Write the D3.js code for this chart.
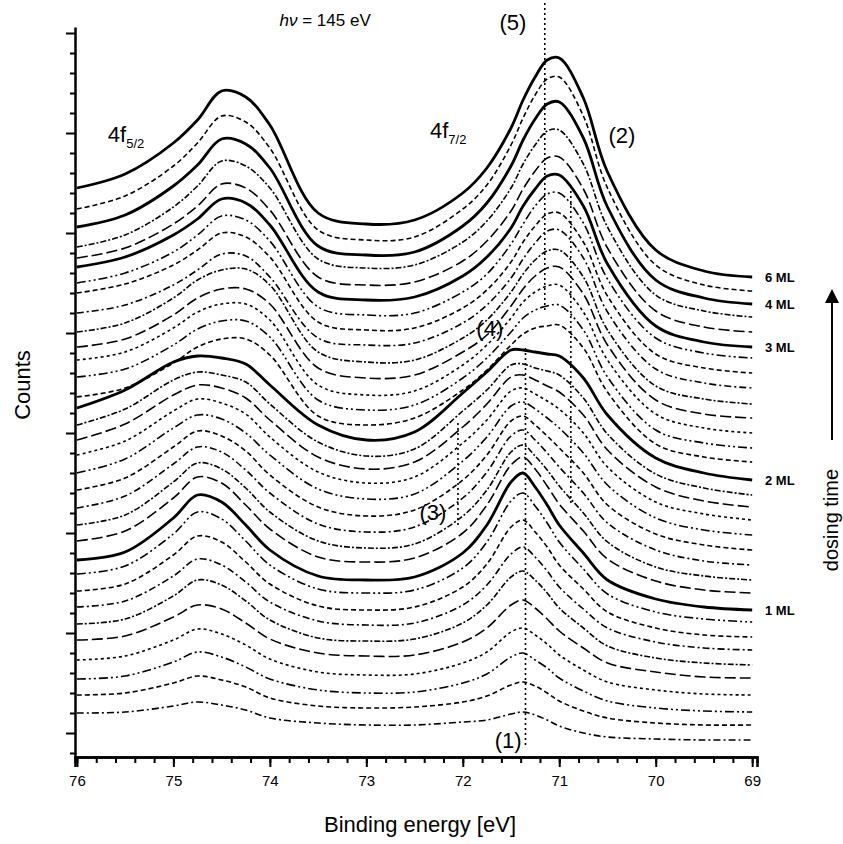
<!DOCTYPE html>
<html>
<head>
<meta charset="utf-8">
<script src="https://cdn.jsdelivr.net/npm/d3@7"></script>
<style>
  body { margin: 0; background: #fff; }
  svg { display: block; font-family: "Liberation Sans", Arial, sans-serif; }
</style>
</head>
<body>
<svg id="chart" width="843" height="844"></svg>
<script>
const energies = [76.0, 75.5, 75.0, 74.75, 74.5, 74.25, 74.0, 73.5, 73.0, 72.5, 72.0,
                  71.75, 71.5, 71.375, 71.25, 71.125, 71.0, 70.75, 70.5, 70.0, 69.5, 69.0];

// spectra (counts, already offset), first = clean surface, last = longest dosing
const spectra = [
  [44, 45, 51, 55, 52, 47, 39, 34, 32, 32, 35, 37, 43, 45, 42, 37, 31, 24, 20, 18, 17, 17],
  [62, 64, 74, 81, 77, 70, 59, 51, 49, 50, 55, 61, 72, 75, 71, 64, 56, 46, 39, 34, 32, 32],
  [78, 81, 95, 105, 100, 90, 78, 67, 64, 65, 74, 83, 100, 104, 97, 89, 79, 66, 56, 49, 46, 45],
  [97, 101, 117, 128, 123, 112, 98, 85, 82, 83, 94, 105, 125, 129, 122, 113, 102, 87, 75, 67, 63, 62],
  [117, 121, 140, 152, 148, 134, 118, 104, 101, 102, 115, 129, 152, 157, 149, 138, 126, 109, 94, 85, 80, 79],
  [133, 138, 161, 177, 172, 156, 137, 119, 116, 118, 134, 152, 180, 186, 177, 164, 149, 129, 111, 99, 94, 92],
  [150, 156, 181, 198, 192, 175, 155, 136, 132, 134, 152, 172, 203, 210, 200, 186, 170, 148, 129, 115, 109, 107],
  [166, 173, 202, 221, 215, 195, 173, 151, 147, 150, 170, 193, 230, 237, 225, 210, 192, 168, 145, 129, 122, 120],
  [183, 191, 223, 245, 238, 216, 192, 168, 164, 167, 189, 215, 256, 264, 251, 234, 215, 188, 163, 145, 138, 135],
  [197, 205, 239, 262, 255, 232, 207, 181, 177, 180, 204, 232, 275, 284, 270, 252, 232, 204, 177, 158, 150, 147],
  [216, 226, 259, 280, 274, 252, 228, 200, 195, 199, 224, 252, 292, 300, 288, 271, 253, 226, 198, 176, 167, 164],
  [232, 242, 275, 294, 288, 269, 245, 216, 209, 213, 241, 267, 305, 312, 301, 287, 271, 244, 215, 190, 181, 177],
  [249, 261, 293, 310, 305, 287, 264, 233, 225, 230, 259, 285, 321, 327, 317, 304, 290, 264, 234, 207, 196, 192],
  [267, 279, 310, 326, 321, 306, 282, 250, 241, 247, 277, 302, 336, 341, 332, 321, 309, 284, 252, 223, 212, 207],
  [284, 298, 329, 342, 338, 324, 302, 268, 258, 263, 296, 320, 351, 355, 348, 339, 329, 304, 272, 239, 227, 222],
  [302, 316, 346, 358, 354, 343, 320, 285, 274, 280, 314, 337, 366, 369, 363, 356, 348, 324, 290, 255, 243, 237],
  [317, 333, 362, 372, 369, 359, 337, 300, 288, 295, 330, 353, 380, 382, 377, 371, 365, 342, 307, 270, 256, 250],
  [332, 348, 377, 385, 382, 375, 353, 315, 301, 308, 346, 367, 392, 393, 389, 386, 382, 359, 323, 283, 269, 262],
  [349, 367, 395, 401, 399, 393, 372, 332, 317, 325, 364, 385, 407, 407, 405, 403, 401, 379, 342, 299, 284, 277],
  [360, 369, 394, 410, 418, 418, 402, 341, 332, 339, 367, 387, 412, 423, 429, 431, 432, 409, 365, 313, 300, 295],
  [380, 388, 412, 428, 436, 436, 420, 357, 347, 352, 379, 399, 425, 439, 447, 451, 452, 427, 380, 327, 314, 309],
  [397, 405, 429, 445, 453, 453, 437, 372, 362, 366, 392, 412, 439, 455, 465, 471, 472, 445, 397, 343, 329, 324],
  [410, 418, 442, 459, 468, 468, 453, 389, 379, 382, 405, 422, 451, 468, 481, 489, 490, 463, 412, 357, 343, 339],
  [425, 434, 459, 477, 487, 488, 472, 405, 395, 397, 419, 437, 465, 483, 497, 506, 507, 480, 427, 371, 358, 353],
  [444, 452, 472, 487, 503, 501, 480, 419, 412, 414, 434, 452, 479, 498, 514, 526, 527, 499, 445, 388, 374, 369],
  [464, 473, 492, 507, 524, 520, 500, 435, 427, 429, 449, 467, 495, 515, 531, 543, 544, 515, 461, 403, 389, 384],
  [474, 484, 505, 522, 541, 537, 516, 450, 442, 444, 465, 483, 513, 533, 551, 563, 564, 534, 478, 419, 404, 399],
  [490, 500, 522, 538, 558, 554, 532, 465, 457, 460, 481, 500, 529, 551, 568, 581, 582, 551, 493, 431, 415, 410],
  [499, 509, 533, 551, 573, 569, 547, 480, 472, 475, 496, 516, 546, 568, 586, 599, 600, 568, 509, 446, 430, 425],
  [510, 522, 550, 571, 596, 591, 569, 498, 489, 492, 515, 536, 569, 593, 612, 626, 627, 593, 530, 462, 446, 440],
  [530, 542, 571, 592, 618, 613, 589, 511, 502, 505, 531, 554, 591, 617, 638, 653, 655, 619, 550, 477, 459, 453],
  [548, 561, 591, 614, 641, 635, 609, 527, 517, 520, 548, 572, 612, 639, 662, 678, 680, 641, 569, 492, 472, 466],
  [569, 583, 614, 637, 666, 660, 632, 544, 533, 537, 564, 589, 629, 657, 680, 697, 699, 659, 585, 507, 486, 480]
];

// coverage labels and the spectra they belong to
const mlLabels = ["1 ML", "2 ML", "3 ML", "4 ML", "6 ML"];
const mlSpectra = [9, 18, 27, 30, 32];

// vertical guide lines: label, energy, count range
const guideNames = ["(1)", "(2)", "(3)", "(5)"];
const guideEnergies = [71.35, 70.88, 72.05, 71.15];
const guideFrom = [12, 254, 232, 447];
const guideTo = [412, 567, 337, 754];

// peak labels: text, energy, counts
const peakNames = ["(1)", "(2)", "(3)", "(4)", "(5)"];
const peakEnergies = [71.53, 70.35, 72.31, 71.72, 71.48];
const peakCounts = [17, 622, 245, 429, 735];

const xMajor = [76, 75, 74, 73, 72, 71, 70, 69];
const xMinor = d3.range(0, 36).map(i => +(76 - i * 0.2).toFixed(1));
const yTicks = d3.range(4, 730, 20);

const svg = d3.select("#chart");

const x = d3.scaleLinear().domain([76.02, 68.95]).range([75, 757]);
const y = d3.scaleLinear().domain([0, 730]).range([757, 27]);

const dashes = ["7,3,2,3", "5,3", "9,3,2,3,2,3", "3,3", "11,4", "6,2,2,2"];

const line = d3.line()
    .x((d, i) => x(energies[i]))
    .y(d => y(d))
    .curve(d3.curveCatmullRom.alpha(0.5));

svg.append("g")
    .selectAll("path")
    .data(spectra)
    .enter().append("path")
    .attr("fill", "none")
    .attr("stroke", "#000")
    .attr("stroke-width", (d, i) => mlSpectra.includes(i) ? 2.8 : 1.6)
    .attr("stroke-dasharray", (d, i) => mlSpectra.includes(i) ? null : dashes[i % dashes.length])
    .attr("d", line);

// guide lines
svg.append("g")
    .selectAll("line")
    .data(guideEnergies)
    .enter().append("line")
    .attr("x1", d => x(d))
    .attr("x2", d => x(d))
    .attr("y1", (d, i) => y(guideFrom[i]))
    .attr("y2", (d, i) => y(guideTo[i]))
    .attr("stroke", "#000")
    .attr("stroke-width", 1.6)
    .attr("stroke-dasharray", "2,3");

// axes
const xAxisMinor = d3.axisBottom(x).tickValues(xMinor).tickSize(6).tickFormat("");
const xAxisMajor = d3.axisBottom(x).tickValues(xMajor).tickSize(10).tickPadding(8).tickFormat(d3.format("d"));
const yAxis = d3.axisLeft(y).tickValues(yTicks).tickFormat("")
    .tickSizeInner(6).tickSizeOuter(0);

const gxMinor = svg.append("g").attr("transform", `translate(0,${y(0)})`).call(xAxisMinor);
const gxMajor = svg.append("g").attr("transform", `translate(0,${y(0)})`).call(xAxisMajor);
const gy = svg.append("g").attr("transform", `translate(${x(76.02)},0)`).call(yAxis);

[gxMinor, gxMajor, gy].forEach(g => {
    g.select(".domain").attr("stroke", "#000").attr("stroke-width", 2.5);
    g.selectAll(".tick line").attr("stroke", "#000").attr("stroke-width", 2);
});
gy.selectAll(".tick line")
    .attr("x2", d => (d - 24) % 100 === 0 ? -9 : -5);
gxMajor.selectAll(".tick text")
    .attr("font-size", 15)
    .attr("font-family", "\"Liberation Sans\", Arial, sans-serif")
    .attr("fill", "#000");

// axis titles
svg.append("text")
    .attr("x", 420).attr("y", 832)
    .attr("text-anchor", "middle")
    .attr("font-size", 22)
    .text("Binding energy [eV]");

svg.append("text")
    .attr("transform", "translate(30,385) rotate(-90)")
    .attr("text-anchor", "middle")
    .attr("font-size", 22)
    .text("Counts");

// coverage labels on the right
svg.append("g")
    .selectAll("text")
    .data(mlLabels)
    .enter().append("text")
    .attr("x", 765)
    .attr("y", (d, i) => y(spectra[mlSpectra[i]][energies.length - 1]))
    .attr("dy", "0.35em")
    .attr("font-size", 13)
    .attr("font-weight", "bold")
    .text(d => d);

// dosing time arrow
svg.append("defs").append("marker")
    .attr("id", "head")
    .attr("viewBox", "0 0 10 10")
    .attr("refX", 5).attr("refY", 5)
    .attr("markerWidth", 7).attr("markerHeight", 9)
    .attr("orient", "auto")
    .append("path")
    .attr("d", "M0,0 L10,5 L0,10 z")
    .attr("fill", "#000");

svg.append("line")
    .attr("x1", 832).attr("x2", 832)
    .attr("y1", 440).attr("y2", 296)
    .attr("stroke", "#000")
    .attr("stroke-width", 2)
    .attr("marker-end", "url(#head)");

svg.append("text")
    .attr("transform", "translate(838,520) rotate(-90)")
    .attr("text-anchor", "middle")
    .attr("font-size", 20)
    .text("dosing time");

// peak labels
svg.append("g")
    .selectAll("text")
    .data(peakNames)
    .enter().append("text")
    .attr("x", (d, i) => x(peakEnergies[i]))
    .attr("y", (d, i) => y(peakCounts[i]))
    .attr("dy", "0.35em")
    .attr("text-anchor", "middle")
    .attr("font-size", 22)
    .text(d => d);

// photon energy
const hv = svg.append("text")
    .attr("x", x(73.9)).attr("y", y(731))
    .attr("font-size", 17);
hv.append("tspan").attr("font-style", "italic").text("hν");
hv.append("tspan").text(" = 145 eV");

// spin-orbit labels
function orbital(e, c, sub) {
    const t = svg.append("text")
        .attr("x", x(e)).attr("y", y(c))
        .attr("font-size", 22);
    t.append("tspan").text("4f");
    t.append("tspan").attr("font-size", 13).attr("dy", 6).text(sub);
}
orbital(75.68, 615, "5/2");
orbital(72.34, 619, "7/2");
</script>
</body>
</html>
